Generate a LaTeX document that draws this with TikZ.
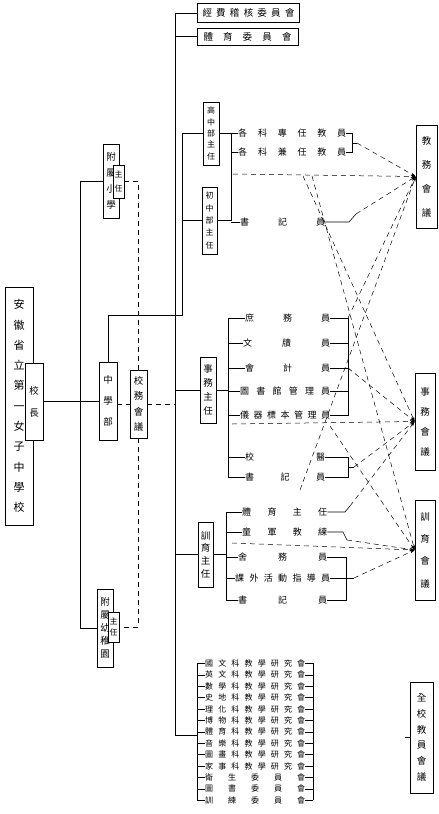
\documentclass[tikz,border=0pt]{standalone}
\usepackage{fontspec}
\setmainfont{Noto Sans CJK TC}
\usetikzlibrary{arrows.meta}

% characters spread over a height or a width
\def\vfirst#1{\hbox to 1em{\hss#1\hss}\vrest}
\def\vrest#1{\ifx\relax#1\else\vfill\hbox to 1em{\hss#1\hss}\expandafter\vrest\fi}
\newcommand{\vspread}[2]{\vbox to #1{\vfirst#2\relax}}
\def\hfirst#1{#1\hrest}
\def\hrest#1{\ifx\relax#1\else\hfill#1\expandafter\hrest\fi}
\newcommand{\hspread}[2]{\makebox[#1][s]{\expandafter\hfirst#2\relax}}

\tikzset{
  frame/.style={draw, line width=0.6pt, fill=white, inner sep=0pt, font=\fontsize{9.5}{10}\selectfont},
  small/.style={font=\fontsize{8}{8}\selectfont},
  wire/.style={line width=0.6pt},
  link/.style={line width=0.5pt, dash pattern=on 5pt off 4pt},
  linkto/.style={link, -{Stealth[length=5pt,width=3pt]}},
  row/.style={anchor=west, inner sep=0pt, font=\fontsize{9}{9}\selectfont},
  list/.style={anchor=west, inner sep=0pt, font=\fontsize{8}{8}\selectfont},
}

\begin{document}
\begin{tikzpicture}[x=1pt,y=-1pt]
\useasboundingbox[fill=white] (0,0) rectangle (439,814);

% head of the school
\node[frame, minimum width=28pt, minimum height=238pt, font=\fontsize{11}{11}\selectfont] (title) at (19,406) {\vspread{212pt}{安徽省立第一女子中學校}};
\node[frame, minimum width=18pt, minimum height=77pt] (xz) at (34,401.5) {\vspread{30pt}{校長}};

% first column
\node[frame, minimum width=16pt, minimum height=74pt] (fx) at (111,181) {\vspread{56pt}{附屬小學}};
\node[frame, small, minimum width=11pt, minimum height=33pt] (fxz) at (118.5,181.5) {\vspread{20pt}{主任}};
\node[frame, minimum width=18pt, minimum height=78pt] (zx) at (108,401) {\vspread{50pt}{中學部}};
\node[frame, minimum width=17pt, minimum height=68pt] (xw) at (138.5,404) {\vspread{54pt}{校務會議}};
\node[frame, minimum width=16pt, minimum height=78pt] (fy) at (105,628) {\vspread{60pt}{附屬幼稚園}};
\node[frame, small, minimum width=11pt, minimum height=30pt] (fyz) at (113.5,627) {\vspread{18pt}{主任}};

% committees on top
\node[frame, minimum width=102pt, minimum height=19pt] (t1) at (248.5,13) {\hspread{92pt}{經費稽核委員會}};
\node[frame, minimum width=101pt, minimum height=17pt] (t2) at (247.5,36.5) {\hspread{88pt}{體育委員會}};

% directors
\node[frame, small, minimum width=16pt, minimum height=63pt] (gz) at (211,133.5) {\vspread{52pt}{高中部主任}};
\node[frame, small, minimum width=15pt, minimum height=67pt] (cz) at (209.5,220.5) {\vspread{56pt}{初中部主任}};
\node[frame, minimum width=16pt, minimum height=66pt] (sw) at (208,390) {\vspread{50pt}{事務主任}};
\node[frame, minimum width=15pt, minimum height=65pt] (xy) at (205.5,554.5) {\vspread{46pt}{訓育主任}};

% staff rows
\node[row] (rA1) at (238,133) {\hspread{108pt}{各科專任教員}};
\node[row] (rA2) at (238,152) {\hspread{108pt}{各科兼任教員}};
\node[row] (rA3) at (240,222) {\hspread{85pt}{書記員}};

\node[row] (rB1) at (245,318) {\hspread{85pt}{庶務員}};
\node[row] (rB2) at (243,343) {\hspread{87pt}{文牘員}};
\node[row] (rB3) at (245,368) {\hspread{85pt}{會計員}};
\node[row] (rB4) at (240,391) {\hspread{90pt}{圖書館管理員}};
\node[row] (rB5) at (240,415) {\hspread{90pt}{儀器標本管理員}};
\node[row] (rB6) at (245,457) {\hspread{80pt}{校醫}};
\node[row] (rB7) at (245,477) {\hspread{80pt}{書記員}};

\node[row] (rC1) at (242,512) {\hspread{85pt}{體育主任}};
\node[row] (rC2) at (242,532) {\hspread{85pt}{童軍教練}};
\node[row] (rC3) at (238,557) {\hspread{89pt}{舍務員}};
\node[row] (rC4) at (235,578) {\hspread{95pt}{課外活動指導員}};
\node[row] (rC5) at (238,600) {\hspread{89pt}{書記員}};

% list of subject meetings
\foreach \t [count=\i] in {國文科教學研究會, 英文科教學研究會, 數學科教學研究會, 史地科教學研究會,
  理化科教學研究會, 博物科教學研究會, 體育科教學研究會, 音樂科教學研究會, 圖畫科教學研究會,
  家事科教學研究會, 衛生委員會, 圖書委員會, 訓練委員會}
  \node[list] (k\i) at (205,652+11.4*\i) {\hspread{100pt}{\t}};

% meetings
\node[frame, minimum width=21pt, minimum height=103pt] (jw) at (426.5,176.5) {\vspread{80pt}{教務會議}};
\node[frame, minimum width=20pt, minimum height=97pt] (sh) at (425,421.5) {\vspread{68pt}{事務會議}};
\node[frame, minimum width=20pt, minimum height=100pt] (xh) at (425,550) {\vspread{75pt}{訓育會議}};
\node[frame, minimum width=23pt, minimum height=111pt] (qh) at (421.5,737.5) {\vspread{86pt}{全校教員會議}};

% helper columns
\coordinate (spA) at (80,0);
\coordinate (spB) at (175,0);
\coordinate (spC) at (182,0);
\coordinate (cZ) at (108,315);
\coordinate (kA) at (231,0);
\coordinate (kA2) at (352,0);
\coordinate (kB) at (228,0);
\coordinate (kB2) at (348,0);
\coordinate (kC) at (226,0);
\coordinate (kC2) at (346,0);
\coordinate (kL) at (197,0);
\coordinate (kL2) at (313,0);
\coordinate (lB) at (197,735);
\coordinate (oA) at (357,143);
\coordinate (oA3) at (356,214);
\coordinate (oB) at (354,467);
\coordinate (oC) at (354,578);
\coordinate (oC1) at (350,506);
\coordinate (oC2) at (347,540);
\coordinate (qs) at (405,737.5);

% solid lines
\draw[wire] (xz.east |- zx.west) -- (zx.west);
\draw[wire] (fx.west) -- (fx.west -| spA) -- (fy.west -| spA) -- (fy.west);
\draw[wire] (zx.north) -- (cZ) -- (cZ -| spC) -- (gz.west -| spC) -- (gz.west);
\draw[wire] (cz.west -| spC) -- (cz.west);
\draw[wire] (t1.west -| spB) -- (lB -| spB) -- (lB);
\draw[wire] (t1.west -| spB) -- (t1.west);
\draw[wire] (t2.west -| spB) -- (t2.west);
\draw[wire] (sw.west -| spB) -- (sw.west);
\draw[wire] (xy.west -| spB) -- (xy.west);

\draw[wire] (gz.east) -- (gz.east -| kA) -- (cz.east -| kA) -- (cz.east);
\foreach \r in {rA1,rA2,rA3} \draw[wire] (\r.west -| kA) -- (\r.west);
\draw[wire] (rA1.east) -- (rA1.east -| kA2) -- (rA2.east -| kA2) -- (rA2.east);
\draw[wire] (kA2 |- oA) -- (oA);
\draw[wire] (rA3.east) -- ([xshift=-3pt]rA3.east -| kA2) -- (oA3);

\draw[wire] (sw.east) -- (sw.east -| kB);
\draw[wire] (rB1.west -| kB) -- (rB7.west -| kB);
\foreach \r in {rB1,rB2,rB3,rB4,rB5,rB6,rB7} \draw[wire] (\r.west -| kB) -- (\r.west);
\draw[wire] (rB1.east) -- (rB1.east -| kB2) -- (rB5.east -| kB2) -- (rB5.east);
\foreach \r in {rB2,rB3,rB4} \draw[wire] (\r.east) -- (\r.east -| kB2);
\draw[wire] (rB6.east) -- (rB6.east -| kB2) -- (rB7.east -| kB2) -- (rB7.east);
\draw[wire] (kB2 |- oB) -- (oB);

\draw[wire] (xy.east) -- (xy.east -| kC);
\draw[wire] (rC1.west -| kC) -- (rC5.west -| kC);
\foreach \r in {rC1,rC2,rC3,rC4,rC5} \draw[wire] (\r.west -| kC) -- (\r.west);
\draw[wire] (rC3.east) -- (rC3.east -| kC2) -- (rC5.east -| kC2) -- (rC5.east);
\draw[wire] (rC4.east) -- (rC4.east -| kC2);
\draw[wire] (kC2 |- oC) -- (oC);
\draw[wire] (rC1.east) -- ([xshift=-5pt]oC1 |- rC1.east) -- (oC1);
\draw[wire] (rC2.east) -- ([xshift=-4pt]oC2 |- rC2.east) -- (oC2);

\draw[wire] (k1.west -| kL) -- (k13.west -| kL);
\draw[wire] (k1.east -| kL2) -- (k13.east -| kL2);
\foreach \i in {1,...,13} {
  \draw[wire] (k\i.west -| kL) -- (k\i.west);
  \draw[wire] (k\i.east) -- (k\i.east -| kL2);
}
\draw[wire] (qs) -- (qh.west);

% dashed lines
\draw[link] (fxz.east) -- (fxz.east -| xw.north) -- (xw.north);
\draw[link] (xw.south) -- (fyz.east -| xw.south) -- (fyz.east);
\draw[link] (zx.east |- xw.west) -- (xw.west);
\draw[link] (xw.east) -- (xw.east -| spB);

\draw[linkto] (233,174) -- (jw.west);
\draw[linkto] (232,424) -- (sh.west);
\draw[linkto] (232,543) -- (xh.west);
\draw[linkto] (oA) -- (jw.west);
\draw[linkto] (oA3) -- (jw.west);
\draw[linkto] (303,176) -- (sh.west);
\draw[linkto] (312,176) -- (xh.west);
\draw[linkto] (kB2 |- rB1.east) -- (jw.west);
\draw[linkto] (kB2 |- rB3.east) -- (sh.west);
\draw[linkto] (330,426) -- (xh.west);
\draw[linkto] (oB) -- (sh.west);
\draw[linkto] (oC1) -- (sh.west);
\draw[linkto] (oC2) -- (xh.west);
\draw[linkto] (oC) -- (xh.west);
\draw[linkto] (300,490) -- (jw.west);
\end{tikzpicture}
\end{document}
